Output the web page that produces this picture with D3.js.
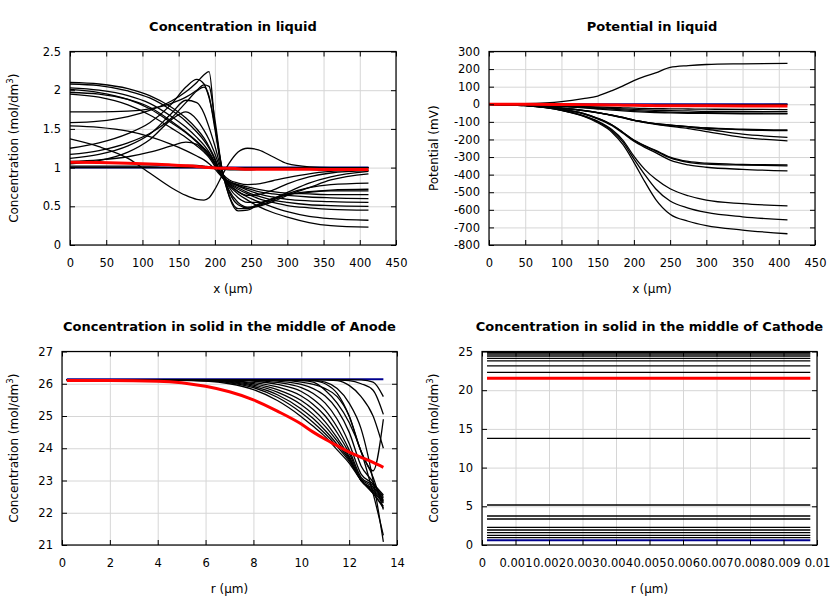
<!DOCTYPE html>
<html><head><meta charset="utf-8">
<script src="https://cdn.jsdelivr.net/npm/d3@7"></script>
<style>body{margin:0;background:#fff} text{font-family:"DejaVu Sans",sans-serif}</style>
</head><body><svg id="c" width="840" height="600"></svg>
<script>
// ---------- Panel 1: concentration in liquid ----------
const xLiquid = [0, 40, 80, 110, 140, 160, 175, 185, 192, 200, 210, 220, 232, 245, 260, 280, 300, 330, 360, 412];
const concLiquidInitial = [1,1,1,1,1,1,1,1,1,1,1,1,1,1,1,1,1,1,1,1];
const concLiquidFinal = [1.07,1.065,1.055,1.045,1.035,1.025,1.015,1.005,1.0,0.995,0.99,0.99,0.985,0.98,0.98,0.98,0.98,0.978,0.976,0.975];
const concLiquidSteps = [
  [2.10,2.08,2.02,1.93,1.78,1.64,1.50,1.38,1.27,1.12,0.88,0.76,0.66,0.58,0.50,0.42,0.36,0.29,0.25,0.23],
  [2.08,2.06,1.99,1.90,1.74,1.60,1.46,1.35,1.25,1.10,0.88,0.77,0.69,0.62,0.56,0.49,0.43,0.37,0.34,0.32],
  [2.03,2.00,1.93,1.83,1.66,1.52,1.39,1.29,1.20,1.07,0.88,0.79,0.72,0.66,0.60,0.55,0.51,0.48,0.46,0.45],
  [2.01,1.97,1.88,1.76,1.58,1.45,1.33,1.24,1.16,1.04,0.88,0.80,0.74,0.68,0.63,0.58,0.55,0.52,0.51,0.50],
  [1.97,1.95,1.88,1.78,1.60,1.46,1.34,1.25,1.18,1.06,0.88,0.82,0.78,0.75,0.72,0.69,0.67,0.66,0.65,0.65],
  [1.95,1.91,1.81,1.68,1.51,1.39,1.28,1.20,1.13,1.02,0.88,0.81,0.76,0.71,0.66,0.62,0.59,0.57,0.56,0.55],
  [1.54,1.52,1.47,1.40,1.30,1.22,1.15,1.10,1.05,0.98,0.88,0.82,0.77,0.73,0.69,0.66,0.64,0.62,0.61,0.60],
  [1.58,1.60,1.66,1.74,1.86,1.98,2.10,2.20,2.24,1.55,0.98,0.62,0.44,0.45,0.52,0.60,0.65,0.69,0.71,0.72],
  [1.72,1.72,1.73,1.76,1.83,1.91,2.00,2.07,2.05,1.62,0.97,0.63,0.47,0.47,0.53,0.60,0.65,0.68,0.70,0.70],
  [1.25,1.32,1.44,1.58,1.82,2.04,2.14,2.08,1.90,1.55,0.96,0.70,0.55,0.49,0.51,0.58,0.66,0.74,0.78,0.80],
  [1.17,1.22,1.32,1.44,1.64,1.84,1.99,2.04,1.92,1.50,0.95,0.68,0.52,0.48,0.50,0.56,0.64,0.74,0.84,0.92],
  [1.12,1.17,1.28,1.43,1.70,1.87,1.84,1.70,1.52,1.28,0.94,0.74,0.61,0.55,0.55,0.60,0.68,0.80,0.88,0.95],
  [1.05,1.09,1.20,1.36,1.62,1.72,1.62,1.48,1.36,1.18,0.93,0.79,0.69,0.64,0.65,0.71,0.79,0.88,0.93,0.96],
  [1.08,1.10,1.14,1.20,1.28,1.33,1.30,1.22,1.15,1.05,0.92,0.84,0.80,0.78,0.79,0.83,0.87,0.92,0.95,0.97],
  [1.37,1.27,1.12,0.93,0.74,0.64,0.59,0.58,0.61,0.72,0.90,1.06,1.20,1.25,1.23,1.14,1.05,1.01,1.00,1.00],
  [1.02,1.02,1.02,1.02,1.03,1.03,1.03,1.02,1.01,1.00,0.98,0.97,0.97,0.97,0.98,0.99,0.99,1.00,1.00,1.00],
  [1.00,1.00,1.00,1.00,1.00,1.00,1.00,1.00,1.00,1.00,1.00,1.00,1.00,1.00,1.00,1.00,1.00,1.00,1.00,1.00]
];
const liquidXTicks = [0,50,100,150,200,250,300,350,400,450];
const liquidXLabels = ["0","50","100","150","200","250","300","350","400","450"];
const concYTicks = [0,0.5,1,1.5,2,2.5];
const concYLabels = ["0","0.5","1","1.5","2","2.5"];

// ---------- Panel 2: potential in liquid ----------
const xPotential = [0, 50, 100, 130, 150, 170, 185, 200, 215, 230, 250, 275, 300, 350, 412];
const potentialInitial = [0,0,0,0,0,0,0,0,0,0,0,0,0,0,0];
const potentialFinal = [0,0,-1,-2,-3,-4,-5,-6,-7,-8,-8,-9,-9,-10,-10];
const potentialSteps = [
  [0,3,15,32,47,78,105,134,158,178,210,220,226,230,233],
  [0,0,-1,-1,-2,-2,-2,-3,-3,-3,-3,-3,-3,-2,-1],
  [0,-2,-8,-12,-15,-18,-20,-22,-24,-25,-26,-27,-28,-29,-30],
  [0,-3,-10,-15,-19,-23,-26,-29,-32,-34,-36,-38,-40,-41,-42],
  [0,-3,-12,-18,-23,-28,-32,-36,-39,-42,-45,-47,-48,-50,-52],
  [0,-4,-14,-21,-27,-33,-38,-42,-45,-47,-49,-51,-52,-54,-55],
  [0,-5,-22,-35,-47,-62,-75,-90,-101,-110,-118,-127,-135,-142,-146],
  [0,-5,-22,-35,-47,-62,-75,-90,-101,-110,-118,-127,-135,-145,-150],
  [0,-5,-22,-36,-48,-63,-76,-91,-102,-111,-120,-130,-142,-170,-188],
  [0,-5,-23,-36,-49,-64,-77,-92,-104,-114,-125,-138,-155,-188,-208],
  [0,-6,-28,-52,-80,-118,-160,-203,-235,-262,-300,-325,-335,-342,-345],
  [0,-6,-28,-52,-80,-118,-160,-205,-238,-266,-305,-330,-340,-346,-350],
  [0,-6,-29,-54,-83,-122,-165,-210,-245,-275,-318,-345,-358,-370,-379],
  [0,-7,-33,-64,-96,-145,-205,-295,-370,-425,-480,-520,-545,-565,-578],
  [0,-8,-34,-66,-100,-152,-215,-310,-400,-480,-550,-590,-615,-640,-657],
  [0,-8,-35,-68,-105,-160,-230,-330,-440,-540,-625,-665,-690,-715,-736]
];
const potYTicks = [300,200,100,0,-100,-200,-300,-400,-500,-600,-700,-800];
const potYLabels = ["300","200","100","0","-100","-200","-300","-400","-500","-600","-700","-800"];

// ---------- Panel 3: solid concentration, anode ----------
const rAnode = [0.2, 2, 4, 6, 7, 8, 9, 10, 10.5, 11, 11.5, 12, 12.5, 13, 13.43];
const anodeInitial = [26.14,26.14,26.14,26.14,26.14,26.14,26.14,26.14,26.14,26.14,26.14,26.14,26.14,26.14,26.14];
const anodeFinal = [26.1,26.1,26.08,25.92,25.75,25.5,25.15,24.75,24.5,24.28,24.08,23.88,23.72,23.56,23.41];
const anodeSteps = [
  [26.13,26.13,26.13,26.13,26.13,26.13,26.13,26.13,26.13,26.13,26.13,26.13,26.12,26.05,25.6],
  [26.13,26.13,26.13,26.13,26.13,26.13,26.13,26.13,26.13,26.13,26.12,26.1,26.0,25.8,25.05],
  [26.13,26.13,26.13,26.13,26.13,26.13,26.13,26.13,26.13,26.12,26.1,25.95,25.6,25.0,24.0],
  [26.13,26.13,26.13,26.13,26.13,26.13,26.13,26.12,26.1,26.0,25.7,25.0,23.9,23.3,24.9],
  [26.13,26.13,26.13,26.13,26.13,26.13,26.13,26.12,26.1,26.05,25.85,25.4,24.6,23.0,21.1],
  [26.13,26.13,26.13,26.13,26.13,26.13,26.12,26.1,26.05,25.8,25.4,24.8,23.9,22.6,21.3],
  [26.13,26.13,26.12,26.08,26.0,25.82,25.48,24.98,24.68,24.36,23.95,23.54,23.0,22.6,22.15],
  [26.13,26.13,26.13,26.09,26.03,25.88,25.58,25.1,24.8,24.45,24.05,23.6,23.02,22.6,22.2],
  [26.13,26.13,26.13,26.1,26.05,25.92,25.66,25.22,24.92,24.55,24.12,23.65,23.0,22.65,22.3],
  [26.13,26.13,26.13,26.11,26.07,25.96,25.74,25.35,25.05,24.68,24.22,23.7,23.0,22.7,22.35],
  [26.13,26.13,26.13,26.12,26.09,26.0,25.82,25.48,25.2,24.82,24.32,23.75,23.0,22.75,22.4],
  [26.13,26.13,26.13,26.12,26.1,26.04,25.9,25.62,25.36,25.0,24.48,23.85,23.05,22.8,22.45],
  [26.13,26.13,26.13,26.13,26.12,26.08,25.98,25.76,25.52,25.18,24.65,23.95,23.1,22.85,22.5],
  [26.13,26.13,26.13,26.13,26.13,26.1,26.04,25.88,25.7,25.4,24.9,24.15,23.2,22.9,22.55],
  [26.13,26.13,26.13,26.13,26.13,26.12,26.08,25.98,25.85,25.62,25.2,24.5,23.45,22.95,22.35],
  [26.13,26.13,26.13,26.13,26.13,26.13,26.12,26.05,25.98,25.85,25.6,25.0,23.9,23.1,22.1]
];
const anodeXTicks = [0,2,4,6,8,10,12,14];
const anodeXLabels = ["0","2","4","6","8","10","12","14"];
const anodeYTicks = [21,22,23,24,25,26,27];
const anodeYLabels = ["21","22","23","24","25","26","27"];

// ---------- Panel 4: solid concentration, cathode ----------
const rCathode = [0.00015, 0.0098];
const cathodeInitial = 0.6;
const cathodeFinal = 21.53;
const cathodeSteps = [24.85, 24.68, 24.42, 24.1, 23.8, 23.13, 22.31, 13.78, 5.17, 3.75, 3.36, 2.28, 1.94, 1.6, 1.25, 0.95];
const cathodeXTicks = [0,0.001,0.002,0.003,0.004,0.005,0.006,0.007,0.008,0.009,0.01];
const cathodeXLabels = ["0","0.001","0.002","0.003","0.004","0.005","0.006","0.007","0.008","0.009","0.01"];
const cathodeYTicks = [0,5,10,15,20,25];
const cathodeYLabels = ["0","5","10","15","20","25"];

const svg = d3.select("#c");
const BLUE = "#00008f", RED = "#ff0000";

function drawPanel(o) {
  const x = d3.scaleLinear().domain(o.xDomain).range([o.left, o.right]);
  const y = d3.scaleLinear().domain(o.yDomain).range([o.bottom, o.top]);
  const w = o.right - o.left, h = o.bottom - o.top;
  const g = svg.append("g");
  // grid
  g.append("g").attr("transform", `translate(0,${o.bottom})`)
    .call(d3.axisBottom(x).tickValues(o.xTicks).tickSize(-h).tickFormat(""))
    .call(s => { s.select(".domain").remove(); s.selectAll("line").attr("stroke", "#d6d6d6"); });
  g.append("g").attr("transform", `translate(${o.left},0)`)
    .call(d3.axisLeft(y).tickValues(o.yTicks).tickSize(-w).tickFormat(""))
    .call(s => { s.select(".domain").remove(); s.selectAll("line").attr("stroke", "#d6d6d6"); });
  // lines
  const line = d3.line().x((d, i) => x(o.xs[i])).y(d => y(d)).curve(o.curve);
  g.append("path").attr("d", line(o.initial)).attr("fill", "none").attr("stroke", BLUE).attr("stroke-width", 2);
  o.steps.forEach(s => {
    g.append("path").attr("d", line(s)).attr("fill", "none").attr("stroke", "#000").attr("stroke-width", 1.3);
  });
  g.append("path").attr("d", line(o.final)).attr("fill", "none").attr("stroke", RED).attr("stroke-width", 3);
  // frame
  g.append("rect").attr("x", o.left).attr("y", o.top).attr("width", w).attr("height", h)
    .attr("fill", "none").attr("stroke", "#000").attr("stroke-width", 1.2);
  const fs = "11.5px";
  // axes
  g.append("g").attr("transform", `translate(0,${o.bottom})`)
    .call(d3.axisBottom(x).tickValues(o.xTicks).tickSize(-5).tickPadding(14).tickFormat((d, i) => o.xLabels[i]))
    .call(s => { s.select(".domain").remove(); s.selectAll("text").attr("font-size", fs).attr("font-family", "DejaVu Sans").attr("fill", "#000"); });
  g.append("g").attr("transform", `translate(0,${o.top})`)
    .call(d3.axisTop(x).tickValues(o.xTicks).tickSize(-5).tickFormat(""))
    .call(s => s.select(".domain").remove());
  g.append("g").attr("transform", `translate(${o.left},0)`)
    .call(d3.axisLeft(y).tickValues(o.yTicks).tickSize(-5).tickPadding(9).tickFormat((d, i) => o.yLabels[i]))
    .call(s => { s.select(".domain").remove(); s.selectAll("text").attr("font-size", fs).attr("font-family", "DejaVu Sans").attr("fill", "#000"); });
  g.append("g").attr("transform", `translate(${o.right},0)`)
    .call(d3.axisRight(y).tickValues(o.yTicks).tickSize(-5).tickFormat(""))
    .call(s => s.select(".domain").remove());
  // titles
  const cx = (o.left + o.right) / 2, cy = (o.top + o.bottom) / 2;
  g.append("text").attr("x", cx).attr("y", o.top - 20.5).attr("text-anchor", "middle")
    .attr("font-size", "13px").attr("font-weight", "bold").text(o.title);
  g.append("text").attr("x", cx).attr("y", o.bottom + 48).attr("text-anchor", "middle")
    .attr("font-size", "12px").text(o.xTitle);
  const yt = g.append("text").attr("transform", `translate(${o.left - o.yTitleOffset},${cy}) rotate(-90)`)
    .attr("text-anchor", "middle").attr("font-size", "12px");
  yt.append("tspan").text(o.yTitle[0]);
  if (o.yTitle.length > 1) {
    yt.append("tspan").attr("font-size", "8.5px").attr("dy", "-5").text(o.yTitle[1]);
    yt.append("tspan").attr("dy", "5").text(o.yTitle[2]);
  }
}

drawPanel({
  left: 70, right: 396, top: 51.5, bottom: 245,
  xDomain: [0, 450], yDomain: [0, 2.5],
  xTicks: liquidXTicks, xLabels: liquidXLabels, yTicks: concYTicks, yLabels: concYLabels,
  xs: xLiquid, initial: concLiquidInitial, final: concLiquidFinal, steps: concLiquidSteps,
  curve: d3.curveMonotoneX,
  title: "Concentration in liquid", xTitle: "x (\u00b5m)",
  yTitle: ["Concentration (mol/dm", "3", ")"], yTitleOffset: 52.5
});
drawPanel({
  left: 489, right: 815, top: 51.5, bottom: 245,
  xDomain: [0, 450], yDomain: [-800, 300],
  xTicks: liquidXTicks, xLabels: liquidXLabels, yTicks: potYTicks, yLabels: potYLabels,
  xs: xPotential, initial: potentialInitial, final: potentialFinal, steps: potentialSteps,
  curve: d3.curveMonotoneX,
  title: "Potential in liquid", xTitle: "x (\u00b5m)",
  yTitle: ["Potential (mV)"], yTitleOffset: 51
});
drawPanel({
  left: 62, right: 397, top: 351.5, bottom: 545,
  xDomain: [0, 14], yDomain: [21, 27],
  xTicks: anodeXTicks, xLabels: anodeXLabels, yTicks: anodeYTicks, yLabels: anodeYLabels,
  xs: rAnode, initial: anodeInitial, final: anodeFinal, steps: anodeSteps,
  curve: d3.curveMonotoneX,
  title: "Concentration in solid in the middle of Anode", xTitle: "r (\u00b5m)",
  yTitle: ["Concentration (mol/dm", "3", ")"], yTitleOffset: 44.5
});
drawPanel({
  left: 482, right: 817, top: 351.5, bottom: 545,
  xDomain: [0, 0.01], yDomain: [0, 25],
  xTicks: cathodeXTicks, xLabels: cathodeXLabels, yTicks: cathodeYTicks, yLabels: cathodeYLabels,
  xs: rCathode, initial: [cathodeInitial, cathodeInitial], final: [cathodeFinal, cathodeFinal],
  steps: cathodeSteps.map(v => [v, v]),
  curve: d3.curveLinear,
  title: "Concentration in solid in the middle of Cathode", xTitle: "r (\u00b5m)",
  yTitle: ["Concentration (mol/dm", "3", ")"], yTitleOffset: 44
});
</script></body></html>
